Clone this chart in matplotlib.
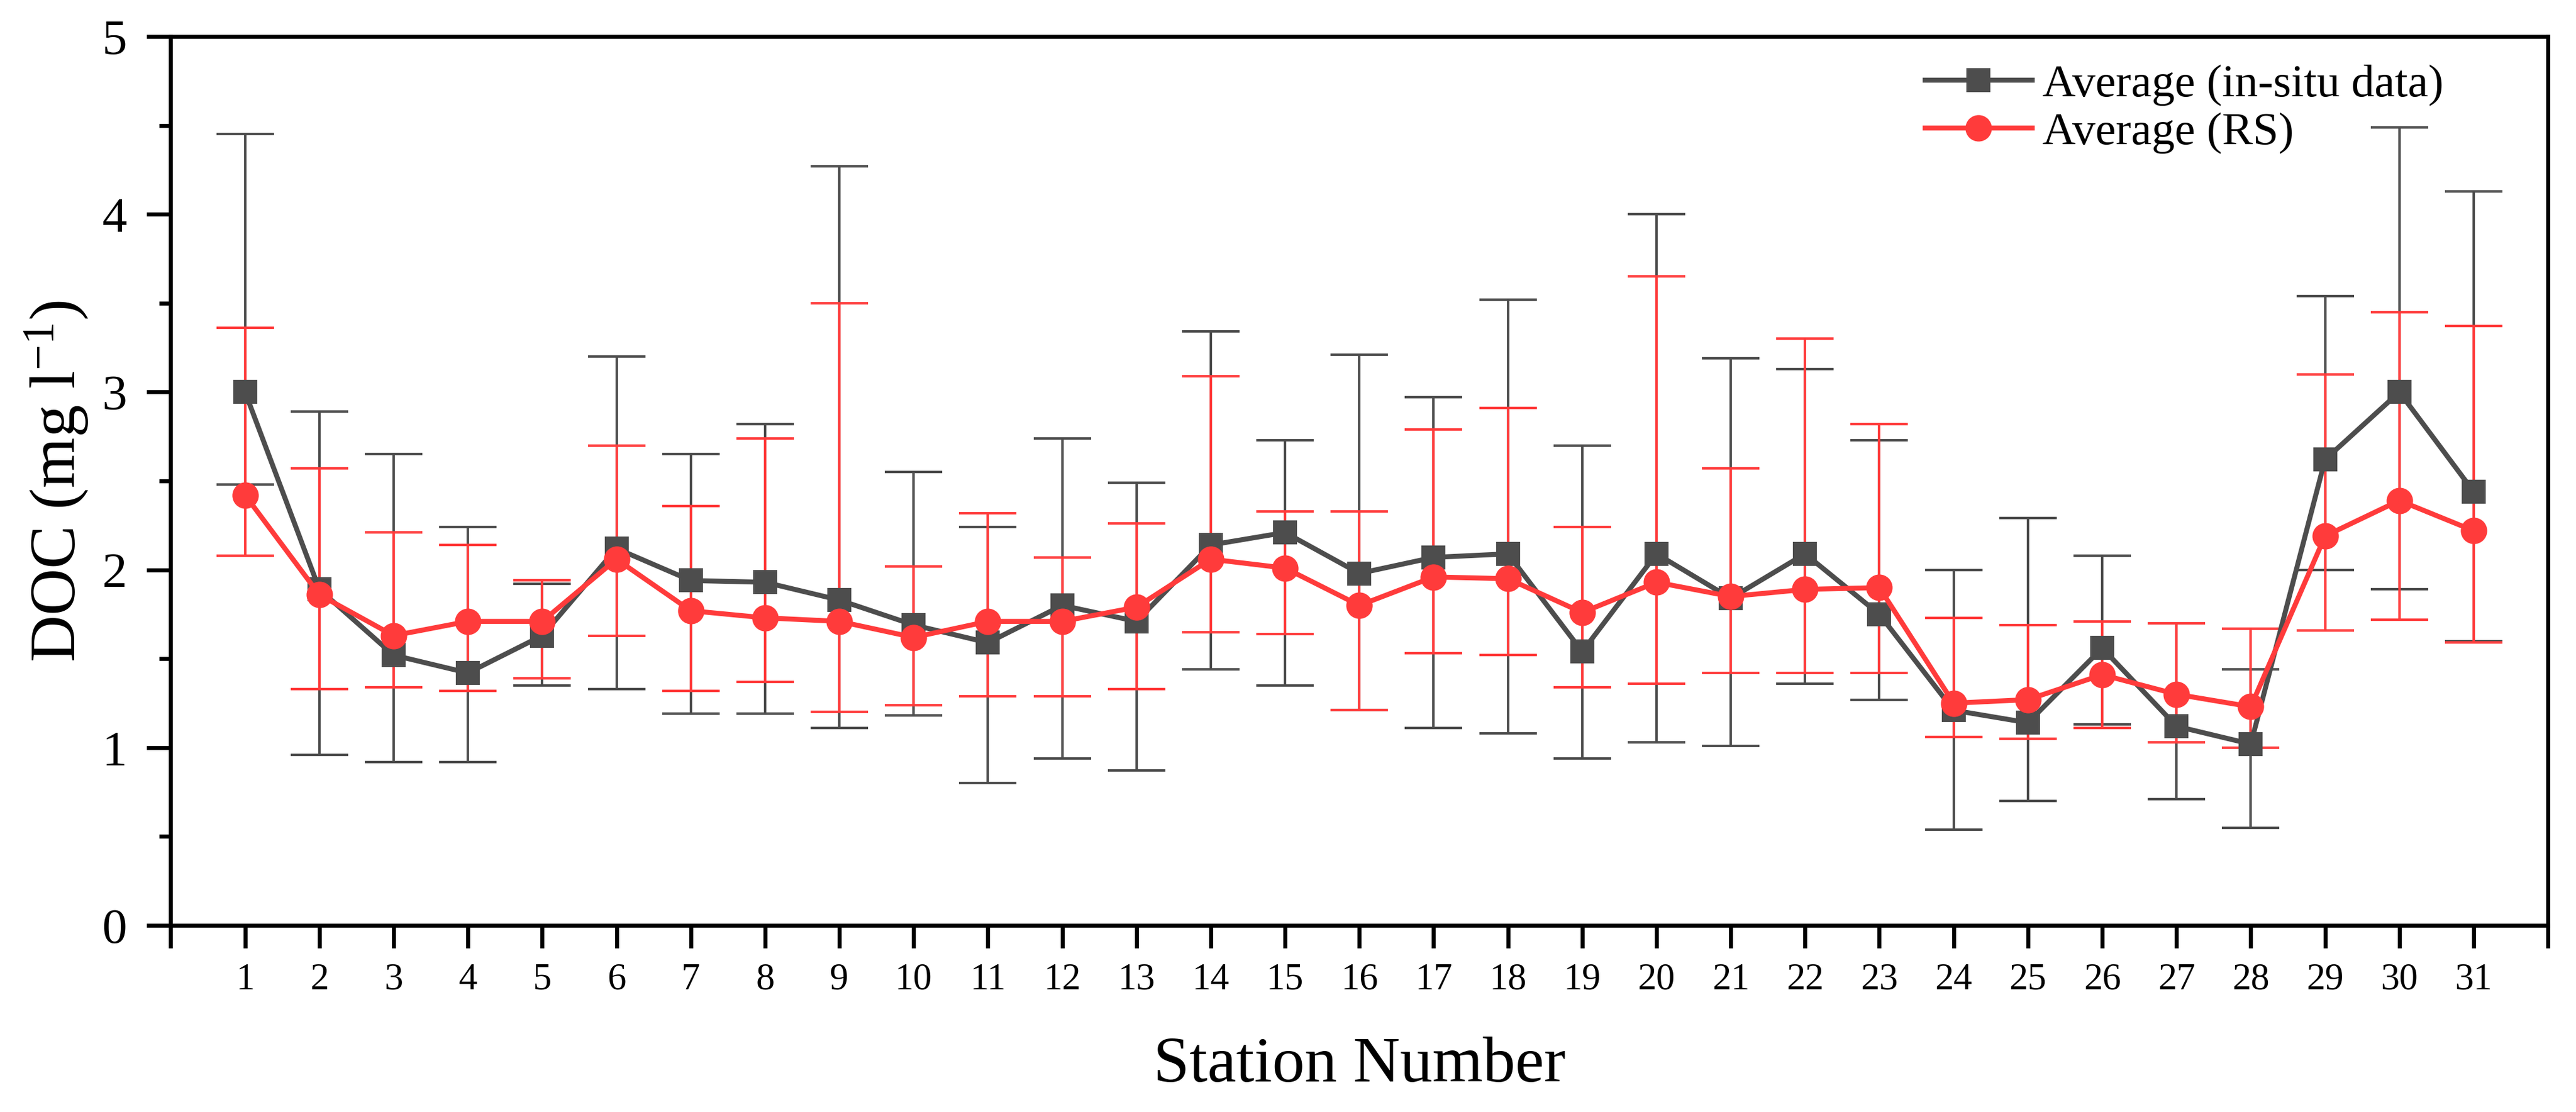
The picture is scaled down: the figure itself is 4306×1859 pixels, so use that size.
import matplotlib
matplotlib.use("Agg")
import matplotlib.pyplot as plt
import numpy as np

# Stations 1..31, values
stations = np.arange(1, 32)

insitu_mean = [3.00, 1.89, 1.52, 1.42, 1.63, 2.12, 1.94, 1.93, 1.83, 1.69, 1.59,
               1.80, 1.71, 2.14, 2.21, 1.98, 2.07, 2.09, 1.54, 2.09, 1.84, 2.09,
               1.75, 1.21, 1.14, 1.56, 1.12, 1.02, 2.62, 3.00, 2.44]
insitu_max = [4.45, 2.89, 2.65, 2.24, 1.92, 3.20, 2.65, 2.82, 4.27, 2.55, 2.24,
              2.74, 2.49, 3.34, 2.73, 3.21, 2.97, 3.52, 2.70, 4.00, 3.19, 3.13,
              2.73, 2.00, 2.29, 2.08, 1.70, 1.44, 3.54, 4.49, 4.13]
insitu_min = [2.48, 0.96, 0.92, 0.92, 1.35, 1.33, 1.19, 1.19, 1.11, 1.18, 0.80,
              0.94, 0.87, 1.44, 1.35, 1.21, 1.11, 1.08, 0.94, 1.03, 1.01, 1.36,
              1.27, 0.54, 0.70, 1.13, 0.71, 0.55, 2.00, 1.89, 1.60]

rs_mean = [2.42, 1.86, 1.63, 1.71, 1.71, 2.06, 1.77, 1.73, 1.71, 1.62, 1.71,
           1.71, 1.79, 2.06, 2.01, 1.80, 1.96, 1.95, 1.76, 1.93, 1.85, 1.89,
           1.90, 1.25, 1.27, 1.41, 1.30, 1.23, 2.19, 2.39, 2.22]
rs_max = [3.36, 2.57, 2.21, 2.14, 1.94, 2.70, 2.36, 2.74, 3.50, 2.02, 2.32,
          2.07, 2.26, 3.09, 2.33, 2.33, 2.79, 2.91, 2.24, 3.65, 2.57, 3.30,
          2.82, 1.73, 1.69, 1.71, 1.70, 1.67, 3.10, 3.45, 3.37]
rs_min = [2.08, 1.33, 1.34, 1.32, 1.39, 1.63, 1.32, 1.37, 1.20, 1.24, 1.29,
          1.29, 1.33, 1.65, 1.64, 1.21, 1.53, 1.52, 1.34, 1.36, 1.42, 1.42,
          1.42, 1.06, 1.05, 1.11, 1.03, 1.00, 1.66, 1.72, 1.59]

plt.rcParams['font.family'] = ['Liberation Serif', 'DejaVu Serif']
plt.rcParams['mathtext.fontset'] = 'custom'
plt.rcParams['mathtext.rm'] = 'Liberation Serif'
plt.rcParams['mathtext.it'] = 'Liberation Serif:italic'

gray = '#4D4D4D'
red = '#FF3B3B'

fig = plt.figure(figsize=(4306 / 300, 1859 / 300), dpi=300)
ax = fig.add_axes([0.0663, 0.1678, 0.9228, 0.7994])

m1 = np.array(insitu_mean)
err1 = [m1 - np.array(insitu_min), np.array(insitu_max) - m1]
m2 = np.array(rs_mean)
err2 = [m2 - np.array(rs_min), np.array(rs_max) - m2]

c1 = ax.errorbar(stations, m1, yerr=err1, color=gray, lw=2, marker='s', ms=8.6,
                 ecolor=gray, elinewidth=1, capsize=11.5, capthick=1)
c2 = ax.errorbar(stations, m2, yerr=err2, color=red, lw=2, marker='o', ms=9.6,
                 ecolor=red, elinewidth=1, capsize=11.5, capthick=1)

ax.set_xlim(0, 32)
ax.set_ylim(0, 5)
ax.set_xticks(np.arange(0, 33))
ax.set_xticklabels([''] + [str(s) for s in stations] + [''])
ax.set_yticks(np.arange(0, 6))
ax.set_yticks(np.arange(0.5, 5, 1.0), minor=True)

for sp in ax.spines.values():
    sp.set_linewidth(1.6)

ax.tick_params(axis='y', which='major', direction='out', length=9.6, width=1.6,
               labelsize=20, pad=8)
ax.tick_params(axis='y', which='minor', direction='out', length=4.6, width=1.6)
ax.tick_params(axis='x', which='major', direction='out', length=9.1, width=1.6,
               labelsize=15, pad=6)

ax.set_xlabel('Station Number', fontsize=26)
ax.set_ylabel(r'DOC (mg l$^{\mathregular{-1}}$)', fontsize=26)
ax.xaxis.set_label_coords(0.5, -0.125)
ax.yaxis.set_label_coords(-0.034, 0.5)

# legend shows only line + marker, no error bars
ax.legend(handles=[c1.lines[0], c2.lines[0]],
          labels=['Average (in-situ data)', 'Average (RS)'],
          loc='upper left', bbox_to_anchor=(0.7473, 0.9424),
          bbox_transform=fig.transFigure, frameon=False, fontsize=18.5,
          borderpad=0, borderaxespad=0, handlelength=2.32, handletextpad=0.22,
          labelspacing=0.12)

fig.savefig('out.png', dpi=300)
